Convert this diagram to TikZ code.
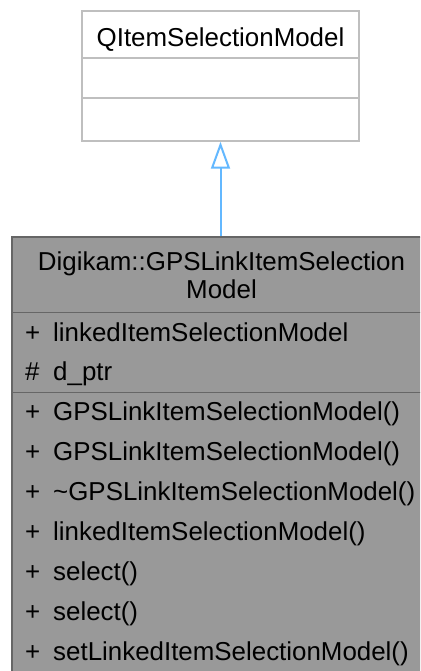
\documentclass[tikz,border=0pt]{standalone}
\usepackage{fontspec}
\setmainfont{Liberation Sans}
\usetikzlibrary{arrows.meta}
\definecolor{parentborder}{HTML}{BFBFBF}
\definecolor{childfill}{HTML}{999999}
\definecolor{childborder}{HTML}{666666}
\definecolor{inheritblue}{HTML}{63B8FF}
\tikzset{
  txt/.style={inner sep=0pt, anchor=base west, font=\fontsize{25.9pt}{28pt}\selectfont},
  ctxt/.style={inner sep=0pt, anchor=base, font=\fontsize{25.9pt}{28pt}\selectfont},
  parentbox/.style={draw=parentborder, fill=white, line width=1.5pt, minimum width=277pt, minimum height=130pt, inner sep=0pt},
  childbox/.style={draw=childborder, fill=childfill, line width=1.5pt, minimum width=410pt, minimum height=436pt, inner sep=0pt},
  parentsep/.style={draw=parentborder, line width=1.5pt},
  childsep/.style={draw=childborder, line width=1.5pt},
  inherit/.style={draw=inheritblue, line width=2pt, -{Triangle[open, length=27pt, width=19pt, fill=white]}}
}
\begin{document}
\begin{tikzpicture}[x=1pt,y=1pt]
\useasboundingbox (0,0) rectangle (420,-671);
\begin{scope}
\clip (0,0) rectangle (420,-671);
% parent
\node[parentbox] (parent) at (220.5,-76) {};
\node[ctxt] (ptitle) at (220.5,-46.5) {QItemSelectionModel};
\coordinate (ps1l) at (82,-58); \coordinate (ps1r) at (359,-58);
\coordinate (ps2l) at (82,-98); \coordinate (ps2r) at (359,-98);
\draw[parentsep] (ps1l) -- (ps1r);
\draw[parentsep] (ps2l) -- (ps2r);
% child
\node[childbox] (child) at (217,-455) {};
\node[ctxt] (ct1) at (221.5,-270) {Digikam::GPSLinkItemSelection};
\node[ctxt] (ct2) at (221.5,-298) {Model};
\coordinate (cs1l) at (12,-312.5); \coordinate (cs1r) at (422,-312.5);
\coordinate (cs2l) at (12,-392.5); \coordinate (cs2r) at (422,-392.5);
\draw[childsep] (cs1l) -- (cs1r);
\draw[childsep] (cs2l) -- (cs2r);
% attributes
\node[txt] (a1v) at (25,-341) {+};  \node[txt] (a1) at (53,-341) {linkedItemSelectionModel};
\node[txt] (a2v) at (25,-380) {\#}; \node[txt] (a2) at (53,-380) {d\_ptr};
% methods
\node[txt] (m1v) at (25,-420) {+}; \node[txt] (m1) at (53,-420) {GPSLinkItemSelectionModel()};
\node[txt] (m2v) at (25,-460) {+}; \node[txt] (m2) at (53,-460) {GPSLinkItemSelectionModel()};
\node[txt] (m3v) at (25,-500) {+}; \node[txt] (m3) at (53,-500) {\string~GPSLinkItemSelectionModel()};
\node[txt] (m4v) at (25,-540) {+}; \node[txt] (m4) at (53,-540) {linkedItemSelectionModel()};
\node[txt] (m5v) at (25,-580) {+}; \node[txt] (m5) at (53,-580) {select()};
\node[txt] (m6v) at (25,-620) {+}; \node[txt] (m6) at (53,-620) {select()};
\node[txt] (m7v) at (25,-660) {+}; \node[txt] (m7) at (53,-660) {setLinkedItemSelectionModel()};
% inheritance
\draw[inherit] (parent.south |- child.north) -- (parent.south);
\end{scope}
\end{tikzpicture}
\end{document}
